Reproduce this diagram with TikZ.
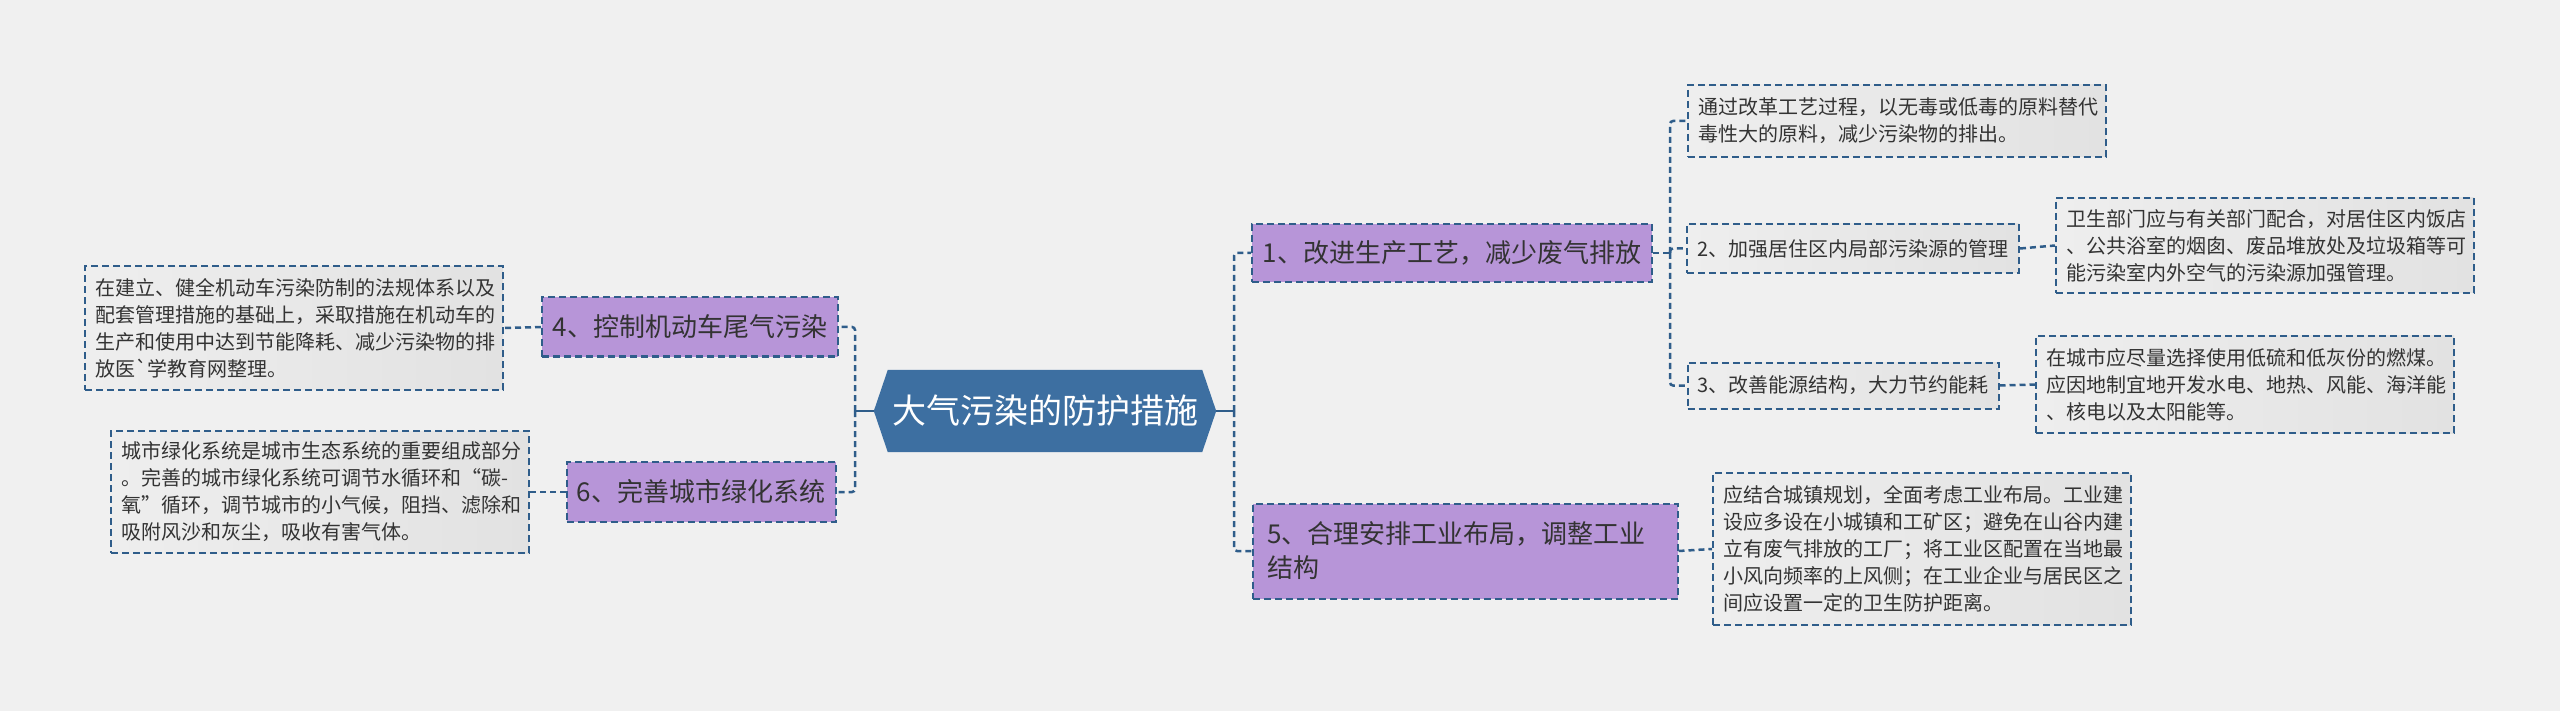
\documentclass[tikz,border=0pt]{standalone}
\usepackage{fontspec}
\setmainfont{Noto Sans CJK SC}[Ligatures=TeXOff]
\usetikzlibrary{backgrounds}
\definecolor{bgc}{HTML}{F0F0F0}
\definecolor{rootc}{HTML}{3D6FA1}
\definecolor{purp}{HTML}{B795D8}
\definecolor{linec}{HTML}{2F5D8A}
\definecolor{txtc}{HTML}{333333}
\definecolor{boxl}{HTML}{EEEEEE}
\definecolor{boxr}{HTML}{E2E2E2}
\begin{document}
\begin{tikzpicture}[x=1pt,y=-1pt,
 conn/.style={draw=linec,line width=2.5pt,dash pattern=on 6pt off 4pt,rounded corners=3pt},
 solidconn/.style={draw=linec,line width=2.5pt},
 rootnode/.style={minimum width=342pt,minimum height=82pt,inner sep=0pt,text=white,font=\fontsize{34}{40}\selectfont},
 topic/.style={fill=purp,draw=linec,line width=2pt,dash pattern=on 7pt off 4pt,text=txtc,font=\fontsize{26}{34}\selectfont,inner sep=0pt},
 sub/.style={left color=boxl,right color=boxr,draw=linec,line width=2pt,dash pattern=on 7pt off 4pt,text=txtc,font=\fontsize{20}{27}\selectfont,inner sep=0pt},
 note/.style={sub,align=left,text width=398pt,inner xsep=10pt,inner ysep=0pt,font=\fontsize{20}{27}\selectfont}
]
\useasboundingbox (0,0) rectangle (2560,711);
\begin{pgfonlayer}{background}
\fill[bgc] (0,0) rectangle (2560,711);
\end{pgfonlayer}

% root
\node[rootnode] (root) at (1045,411) {大气污染的防护措施};
\begin{pgfonlayer}{background}
\fill[rootc] (root.west) -- ([xshift=14pt]root.north west) -- ([xshift=-14pt]root.north east) -- (root.east) -- ([xshift=-14pt]root.south east) -- ([xshift=14pt]root.south west) -- cycle;
\end{pgfonlayer}

% main topics
\node[topic,minimum width=400pt,minimum height=58pt] (n1) at (1452,253) {1、改进生产工艺，减少废气排放};
\node[topic,minimum width=296pt,minimum height=59pt] (n4) at (690,327) {4、控制机动车尾气污染};
\node[topic,minimum width=269pt,minimum height=60pt] (n6) at (701,492) {6、完善城市绿化系统};
\node[topic,minimum width=425pt,minimum height=95pt,text width=395pt,align=left,inner xsep=15pt] (n5) at (1465,551) {5、合理安排工业布局，调整工业\\结构};

% sub topics
\node[sub,minimum width=332pt,minimum height=49pt] (n2) at (1853,248.5) {2、加强居住区内局部污染源的管理};
\node[sub,minimum width=311pt,minimum height=46pt] (n3) at (1843,385.5) {3、改善能源结构，大力节约能耗};

% notes
\node[note,minimum height=72pt] (b1) at (1897,121) {通过改革工艺过程，以无毒或低毒的原料替代\\毒性大的原料，减少污染物的排出。};
\node[note,minimum height=95pt] (b2) at (2265,245.5) {卫生部门应与有关部门配合，对居住区内饭店\\、公共浴室的烟囱、废品堆放处及垃圾箱等可\\能污染室内外空气的污染源加强管理。};
\node[note,minimum height=97pt] (b3) at (2245,384.5) {在城市应尽量选择使用低硫和低灰份的燃煤。\\应因地制宜地开发水电、地热、风能、海洋能\\、核电以及太阳能等。};
\node[note,minimum height=123pt] (b4) at (294,328) {在建立、健全机动车污染防制的法规体系以及\\配套管理措施的基础上，采取措施在机动车的\\生产和使用中达到节能降耗、减少污染物的排\\放医`学教育网整理。};
\node[note,minimum height=152pt] (b5) at (1922,549) {应结合城镇规划，全面考虑工业布局。工业建\\设应多设在小城镇和工矿区；避免在山谷内建\\立有废气排放的工厂；将工业区配置在当地最\\小风向频率的上风侧；在工业企业与居民区之\\间应设置一定的卫生防护距离。};
\node[note,minimum height=122pt] (b6) at (320,492) {城市绿化系统是城市生态系统的重要组成部分\\。完善的城市绿化系统可调节水循环和“碳-\\氧”循环，调节城市的小气候，阻挡、滤除和\\吸附风沙和灰尘，吸收有害气体。};

% connectors
\coordinate (lj) at (855,411);
\coordinate (rj) at (1234,411);
\coordinate (j1) at (1670,253);
\draw[solidconn] (root.west) -- (lj);
\draw[conn] (lj) |- (n4.east);
\draw[conn] (lj) |- (n6.east);
\draw[solidconn] (root.east) -- (rj);
\draw[conn] (rj) |- (n1.west);
\draw[conn] (rj) |- (n5.west);
\draw[conn] (n1.east) -- (j1);
\draw[conn] (j1) |- (b1.west);
\draw[conn] (j1) |- (n2.west);
\draw[conn] (j1) |- (n3.west);
\draw[conn] (n2.east) -- (b2.west);
\draw[conn] (n3.east) -- (b3.west);
\draw[conn] (n5.east) -- (b5.west);
\draw[conn] (n4.west) -- (b4.east);
\draw[conn] (n6.west) -- (b6.east);
\end{tikzpicture}
\end{document}
